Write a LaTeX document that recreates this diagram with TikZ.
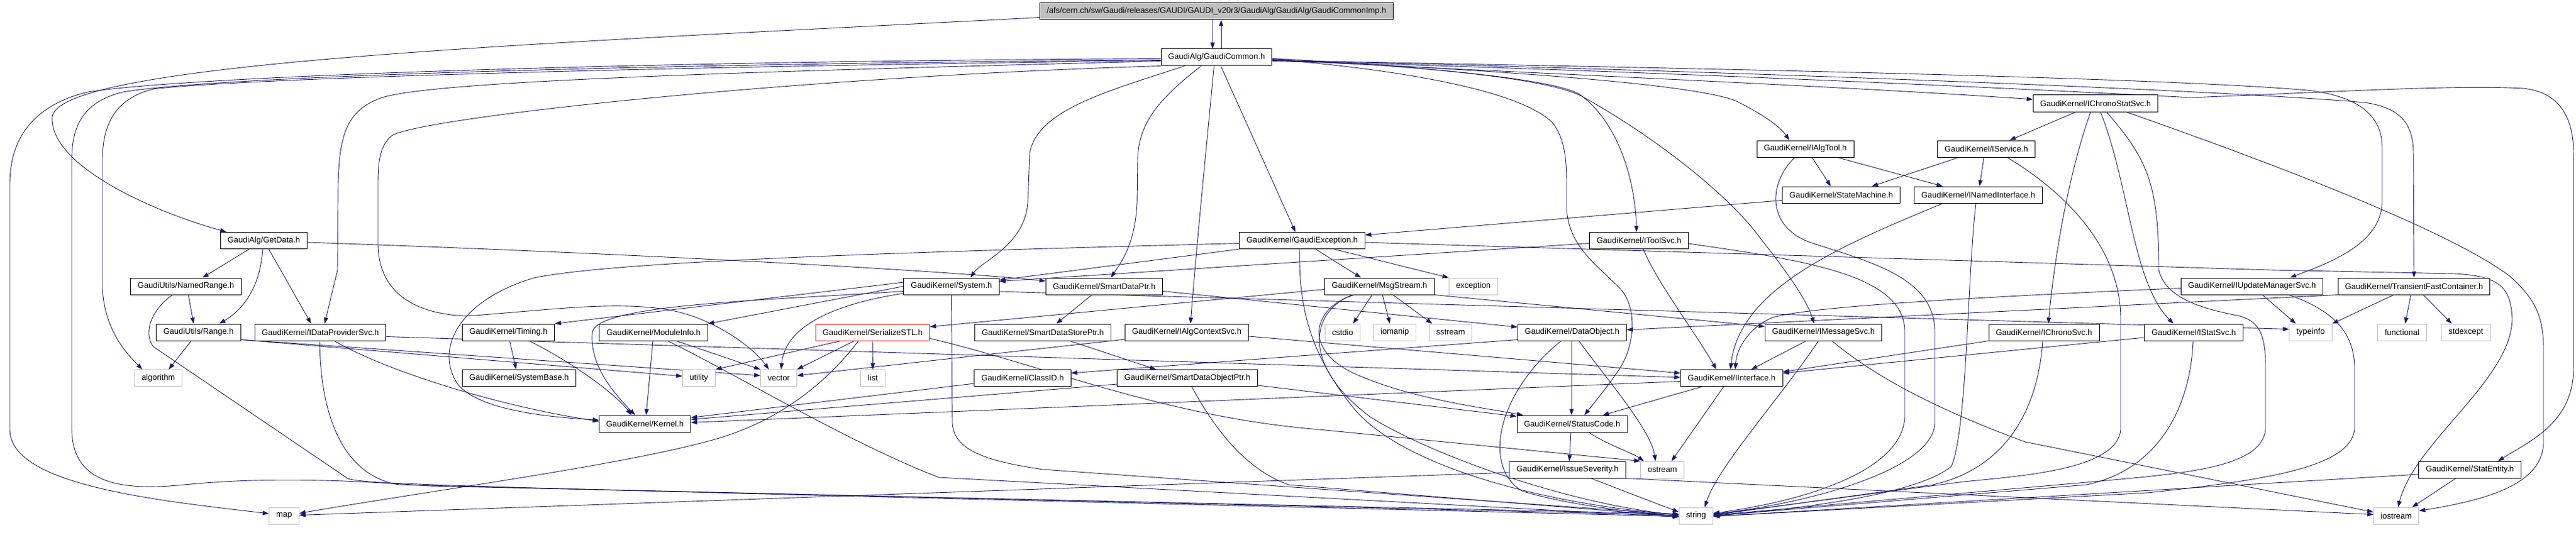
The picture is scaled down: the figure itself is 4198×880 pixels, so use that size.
\documentclass[tikz,border=0pt]{standalone}
\usepackage{fontspec}
\newfontfamily\dotfont{Liberation Sans}
\usetikzlibrary{arrows.meta}
\definecolor{edgeblue}{RGB}{25,25,112}
\definecolor{sysgray}{RGB}{191,191,191}
\pgfdeclarelayer{edges}
\pgfsetlayers{edges,main}
\tikzset{
	file/.style={draw=black, line width=1pt, fill=white, minimum height=27pt, inner xsep=11.5pt, inner ysep=0pt, font=\dotfont\fontsize{13.2}{15}\selectfont},
	sysfile/.style={file, draw=sysgray},
	cutfile/.style={file, draw=red},
	incl/.style={draw=edgeblue, line width=0.9pt, -{Triangle[length=10pt,width=7pt]}}
}

\begin{document}
\begin{tikzpicture}[x=1pt,y=-1pt]
	\useasboundingbox (0,0) rectangle (4198,880);
	% rank 0 - 5
	\node[file, fill=sysgray] (top) at (1982.5,18.5) {/afs/cern.ch/sw/Gaudi/releases/GAUDI/GAUDI\_v20r3/GaudiAlg/GaudiAlg/GaudiCommonImp.h};
	\node[file] (common) at (1982.5,93.5) {GaudiAlg/GaudiCommon.h};
	\node[file] (chronostat) at (3415,168.5) {GaudiKernel/IChronoStatSvc.h};
	\node[file] (algtool) at (2942,242.5) {GaudiKernel/IAlgTool.h};
	\node[file] (iservice) at (3237,242.5) {GaudiKernel/IService.h};
	\node[file] (statemachine) at (3000.5,317.5) {GaudiKernel/StateMachine.h};
	\node[file] (namediface) at (3224,317.5) {GaudiKernel/INamedInterface.h};
	\node[file] (getdata) at (430,392) {GaudiAlg/GetData.h};
	\node[file] (gexcept) at (2122,392) {GaudiKernel/GaudiException.h};
	\node[file] (toolsvc) at (2671,392) {GaudiKernel/IToolSvc.h};
	% rank 6
	\node[file] (namedrange) at (303,466.5) {GaudiUtils/NamedRange.h};
	\node[file] (system) at (1550.5,466.5) {GaudiKernel/System.h};
	\node[file] (smartptr) at (1799.5,466.5) {GaudiKernel/SmartDataPtr.h};
	\node[file] (msgstream) at (2248,466.5) {GaudiKernel/MsgStream.h};
	\node[sysfile] (exception) at (2401,466.5) {exception};
	\node[file] (updmgr) at (3670,466.5) {GaudiKernel/IUpdateManagerSvc.h};
	\node[file] (transient) at (3934,466.5) {GaudiKernel/TransientFastContainer.h};
	% rank 7
	\node[file] (range) at (323.5,541.5) {GaudiUtils/Range.h};
	\node[file] (dataprov) at (522,541.5) {GaudiKernel/IDataProviderSvc.h};
	\node[file] (timing) at (828.6,541.5) {GaudiKernel/Timing.h};
	\node[file] (moduleinfo) at (1065,541.5) {GaudiKernel/ModuleInfo.h};
	\node[cutfile] (serialize) at (1422,541.5) {GaudiKernel/SerializeSTL.h};
	\node[file] (storeptr) at (1699.5,541.5) {GaudiKernel/SmartDataStorePtr.h};
	\node[file] (algctx) at (1934,541.5) {GaudiKernel/IAlgContextSvc.h};
	\node[sysfile] (cstdio) at (2188,541.5) {cstdio};
	\node[sysfile] (iomanip) at (2273,541.5) {iomanip};
	\node[sysfile] (sstream) at (2364,541.5) {sstream};
	\node[file] (dataobj) at (2562,541.5) {GaudiKernel/DataObject.h};
	\node[file] (msgsvc) at (2971.5,541.5) {GaudiKernel/IMessageSvc.h};
	\node[file] (chronosvc) at (3331,541.5) {GaudiKernel/IChronoSvc.h};
	\node[file] (statsvc) at (3575,541.5) {GaudiKernel/IStatSvc.h};
	\node[sysfile] (typeinfo) at (3765.5,541.5) {typeinfo};
	\node[sysfile] (functional) at (3914.5,541.5) {functional};
	\node[sysfile] (stdexcept) at (4018.5,541.5) {stdexcept};
	% rank 8 - 11
	\node[sysfile] (algorithm) at (258,616) {algorithm};
	\node[file] (systembase) at (846,616) {GaudiKernel/SystemBase.h};
	\node[sysfile] (utility) at (1139,616) {utility};
	\node[sysfile] (vector) at (1269,616) {vector};
	\node[sysfile] (list) at (1422.5,616) {list};
	\node[file] (classid) at (1666.5,616) {GaudiKernel/ClassID.h};
	\node[file] (objptr) at (1935,616) {GaudiKernel/SmartDataObjectPtr.h};
	\node[file] (iinterface) at (2822,616) {GaudiKernel/IInterface.h};
	\node[file] (kernel) at (1051,690.5) {GaudiKernel/Kernel.h};
	\node[file] (statuscode) at (2562,690.5) {GaudiKernel/StatusCode.h};
	\node[file] (severity) at (2554.5,765.5) {GaudiKernel/IssueSeverity.h};
	\node[sysfile] (ostream) at (2709,765.5) {ostream};
	\node[file] (statentity) at (4025,765.5) {GaudiKernel/StatEntity.h};
	\node[sysfile] (map) at (463,840.5) {map};
	\node[sysfile] (string) at (2764,840.5) {string};
	\node[sysfile] (iostream) at (3905,840.5) {iostream};

	\begin{pgfonlayer}{edges}
	% GaudiCommonImp.h
	\draw[incl] ([xshift=-6.5]top.south) -- ([xshift=-6.5]common.north);
	\draw[incl] ([yshift=-10]top.west) .. controls (900,70) and (100,100) .. (85,190) .. controls (80,270) and (250,345) .. ([xshift=10]getdata.north west);
	% GaudiCommon.h
	\draw[incl] ([xshift=7.5]common.north) -- ([xshift=7.5]top.south);
	\draw[incl] ([yshift=-2]common.west) .. controls (1000,100) and (300,125) .. (143,150) .. controls (60,170) and (16,220) .. (16,300) -- (16,700) .. controls (16,790) and (250,815) .. ([yshift=3.5]map.west);
	\draw[incl] ([yshift=-4]common.west) .. controls (1000,105) and (350,125) .. (200,150) .. controls (140,165) and (117,200) .. (117,260) -- (117,700) .. controls (118,790) and (200,800) .. (300,790) .. controls (450,775) and (600,785) .. (700,792) -- ([yshift=3]string.west);
	\draw[incl] ([yshift=-5]common.west) .. controls (1000,110) and (400,128) .. (250,145) .. controls (190,160) and (167,200) .. (167,260) -- (167,470) .. controls (170,540) and (210,580) .. ([xshift=-26]algorithm.north);
	\draw[incl] ([yshift=-6]common.west) .. controls (1300,115) and (700,130) .. (620,160) .. controls (565,180) and (553,220) .. (551,300) -- (550,440) -- ([xshift=7]dataprov.north);
	\draw[incl] (common.south west) .. controls (1300,125) and (700,190) .. (640,220) .. controls (620,235) and (616,260) .. (616,300) -- (616,400) .. controls (618,480) and (680,512) .. (760,515) .. controls (900,505) and (1000,490) .. (1090,505) .. controls (1170,520) and (1230,570) .. ([xshift=-16]vector.north);
	\draw[incl] ([xshift=-52]common.south) .. controls (1800,150) and (1690,180) .. (1678,250) -- (1675,330) .. controls (1670,400) and (1600,425) .. ([xshift=31]system.north);
	\draw[incl] ([xshift=-25]common.south) .. controls (1890,160) and (1855,200) .. (1854,260) -- (1853,330) .. controls (1850,400) and (1825,430) .. ([xshift=11]smartptr.north);
	\draw[incl] ([xshift=-4]common.south) .. controls (1965,250) and (1950,400) .. ([xshift=6]algctx.north);
	\draw[incl] ([xshift=7]common.south) -- ([xshift=-11]gexcept.north);
	\draw[incl] ([yshift=-2]common.east) .. controls (2350,110) and (2530,130) .. (2573,153) .. controls (2640,200) and (2665,300) .. ([xshift=-4]toolsvc.north);
	\draw[incl] ([yshift=-2]common.east) .. controls (2350,110) and (2530,130) .. (2580,158) .. controls (2700,225) and (2820,320) .. (2870,390) .. controls (2910,440) and (2945,490) .. ([xshift=-15]msgsvc.north);
	\draw[incl] ([yshift=-3]common.east) .. controls (2300,115) and (2480,150) .. (2530,200) .. controls (2550,225) and (2553,260) .. (2553,300) -- (2553,340) .. controls (2556,400) and (2600,430) .. (2640,470) .. controls (2668,500) and (2665,560) .. (2640,600) .. controls (2620,630) and (2595,660) .. ([xshift=20]statuscode.north);
	\draw[incl] ([yshift=-4]common.east) .. controls (2400,115) and (3000,140) .. ([yshift=6.5]chronostat.west);
	\draw[incl] ([yshift=-4]common.east) .. controls (2400,112) and (2760,135) .. (2830,165) .. controls (2870,185) and (2900,205) .. ([xshift=-26]algtool.north);
	\draw[incl] ([yshift=-5]common.east) .. controls (2700,110) and (3500,125) .. (3760,147) .. controls (3830,155) and (3882,180) .. (3882,240) -- (3882,330) .. controls (3880,400) and (3790,430) .. ([xshift=62]updmgr.north);
	\draw[incl] ([yshift=-5]common.east) .. controls (2700,112) and (3600,145) .. (3853,167) .. controls (3910,175) and (3933,200) .. (3933,250) -- (transient.north);
	\draw[incl] ([yshift=-6]common.east) .. controls (2700,115) and (3400,150) .. (3571,159) .. controls (3800,150) and (4000,138) .. (4112,144) .. controls (4170,150) and (4194,190) .. (4194,250) -- (4194,600) .. controls (4194,690) and (4120,720) .. ([xshift=46]statentity.north);
	% GetData.h, GaudiUtils
	\draw[incl] ([xshift=-24]getdata.south) -- ([xshift=27]namedrange.north);
	\draw[incl] ([xshift=-2]getdata.south) .. controls (424,470) and (395,505) .. ([xshift=34]range.north);
	\draw[incl] ([xshift=8]getdata.south) -- ([xshift=-15]dataprov.north);
	\draw[incl] ([yshift=-3]getdata.east) .. controls (900,408) and (1500,437) .. ([yshift=8.5]smartptr.west);
	\draw[incl] ([xshift=4]namedrange.south) -- ([xshift=-8]range.north);
	\draw[incl] ([xshift=-22]namedrange.south) .. controls (240,510) and (236,548) .. (250,565) -- (567,780) .. controls (600,790) and (700,792) .. ([yshift=-1]string.west);
	\draw[incl] ([xshift=-12]range.south) -- ([xshift=17]algorithm.north);
	\draw[incl] ([yshift=-12]range.east) -- ([yshift=3]utility.west);
	\draw[incl] ([yshift=-12]range.east) -- ([yshift=4]vector.west);
	% IDataProviderSvc.h
	\draw[incl] ([xshift=23]dataprov.south) .. controls (620,600) and (800,660) .. ([yshift=4]kernel.west);
	\draw[incl] ([xshift=-1]dataprov.south) .. controls (522,680) and (560,775) .. (650,790) -- ([yshift=1]string.west);
	\draw[incl] ([yshift=-7]dataprov.east) -- ([yshift=1]iinterface.west);
	% System.h, Timing.h, ModuleInfo.h
	\draw[incl] ([yshift=6.5]system.west) -- (timing.north east);
	\draw[incl] (system.west) -- (moduleinfo.north east);
	\draw[incl] ([yshift=-8]system.west) .. controls (1250,490) and (960,495) .. (965,545) .. controls (962,600) and (1005,645) .. ([xshift=-16]kernel.north);
	\draw[incl] ([yshift=-11.5]system.west) .. controls (1330,500) and (1278,545) .. ([xshift=4]vector.north);
	\draw[incl] ([yshift=-8.5]system.east) -- ([yshift=5]typeinfo.west);
	\draw[incl] (system.south) -- (1552,690) .. controls (1555,735) and (1610,752) .. (1700,765) -- ([yshift=2]string.west);
	\draw[incl] ([xshift=2]timing.south) -- ([xshift=-5]systembase.north);
	\draw[incl] ([xshift=34]timing.south) .. controls (950,600) and (1010,650) .. ([xshift=-22]kernel.north);
	\draw[incl] ([xshift=-1]moduleinfo.south) -- ([xshift=2]kernel.north);
	\draw[incl] ([xshift=37]moduleinfo.south) -- (vector.north west);
	\draw[incl] ([xshift=23]moduleinfo.south) .. controls (1200,610) and (1380,720) .. (1530,778) -- ([yshift=-2]string.west);
	% SerializeSTL.h
	\draw[incl] ([xshift=-52]serialize.south) -- (utility.north east);
	\draw[incl] ([xshift=-30]serialize.south) -- (vector.north east);
	\draw[incl] (serialize.south) -- (list.north);
	\draw[incl] ([xshift=-23]serialize.south) .. controls (1350,620) and (1270,690) .. (1150,720) .. controls (1000,760) and (700,800) .. ([yshift=4]map.east);
	\draw[incl] ([yshift=-10]serialize.east) .. controls (1700,595) and (1900,680) .. (2150,700) -- (ostream.north west);
	% SmartData*
	\draw[incl] ([xshift=-20]smartptr.south) -- ([xshift=22]storeptr.north);
	\draw[incl] ([yshift=-8]smartptr.east) -- ([yshift=8.5]dataobj.west);
	\draw[incl] ([xshift=44]storeptr.south) -- ([xshift=-51]objptr.north);
	\draw[incl] ([yshift=-10]objptr.west) -- ([yshift=7]kernel.east);
	\draw[incl] ([yshift=-12]objptr.east) -- ([yshift=12]statuscode.west);
	\draw[incl] ([xshift=7]objptr.south) .. controls (1980,700) and (2030,765) .. (2100,790) -- ([yshift=-1]string.west);
	\draw[incl] ([yshift=-6.5]algctx.east) -- ([yshift=8]iinterface.west);
	\draw[incl] ([yshift=-11.5]algctx.west) -- ([yshift=4]vector.east);
	\draw[incl] ([yshift=-9]classid.west) -- ([yshift=10]kernel.east);
	% GaudiException.h
	\draw[incl] ([yshift=-4.5]gexcept.west) .. controls (1500,410) and (1000,425) .. (870,453) .. controls (760,485) and (705,560) .. (745,625) .. controls (780,670) and (900,680) .. ([yshift=6]kernel.west);
	\draw[incl] (gexcept.south west) -- ([yshift=10]system.east);
	\draw[incl] ([xshift=22]gexcept.south) -- ([xshift=-30]msgstream.north);
	\draw[incl] ([xshift=52]gexcept.south) -- (exception.north west);
	\draw[incl] ([xshift=-4]gexcept.south) .. controls (2116,500) and (2135,580) .. (2210,670) .. controls (2300,770) and (2550,825) .. ([yshift=2]string.west);
	\draw[incl] ([yshift=-3]gexcept.east) -- (3700,440) -- (4000,446) .. controls (4070,450) and (4092,465) .. (4094,520) .. controls (4092,620) and (3935,720) .. ([xshift=3]iostream.north);
	% MsgStream.h
	\draw[incl] ([yshift=-5]msgstream.west) -- ([yshift=9]serialize.east);
	\draw[incl] ([xshift=-12]msgstream.south) -- ([xshift=17]cstdio.north);
	\draw[incl] ([xshift=5]msgstream.south) -- ([xshift=-8]iomanip.north);
	\draw[incl] ([xshift=22]msgstream.south) -- ([xshift=-30]sstream.north);
	\draw[incl] (msgstream.south east) -- ([yshift=9.5]msgsvc.west);
	\draw[incl] ([xshift=-41]msgstream.south) .. controls (2140,500) and (2120,570) .. (2210,610) .. controls (2300,650) and (2420,665) .. ([xshift=-80]statuscode.north);
	\draw[incl] ([xshift=-44]msgstream.south) .. controls (2130,510) and (2125,600) .. (2234,680) .. controls (2330,740) and (2550,820) .. ([yshift=1]string.west);
	% DataObject.h, StatusCode.h, IssueSeverity.h
	\draw[incl] ([yshift=-12]dataobj.west) -- ([yshift=8]classid.east);
	\draw[incl] ([xshift=-1]dataobj.south) -- ([xshift=-1]statuscode.north);
	\draw[incl] ([xshift=11]dataobj.south) .. controls (2620,620) and (2690,700) .. ([xshift=-11]ostream.north);
	\draw[incl] ([xshift=-18]dataobj.south) .. controls (2440,640) and (2415,760) .. (2480,800) .. controls (2560,825) and (2680,836) .. ([yshift=-1]string.west);
	\draw[incl] ([xshift=-2]statuscode.south) -- ([xshift=3]severity.north);
	\draw[incl] ([xshift=27]statuscode.south) .. controls (2620,725) and (2660,738) .. ([xshift=-30]ostream.north);
	\draw[incl] ([yshift=-4.5]severity.west) -- ([yshift=1]map.east);
	\draw[incl] ([xshift=38]severity.south) -- ([yshift=6]string.west);
	\draw[incl] (severity.south east) -- ([yshift=2]iostream.west);
	% IInterface.h
	\draw[incl] ([yshift=-5.5]iinterface.west) -- ([yshift=2]kernel.east);
	\draw[incl] ([xshift=-48]iinterface.south) -- ([xshift=50]statuscode.north);
	\draw[incl] ([xshift=-13]iinterface.south) -- ([xshift=15]ostream.north);
	% IToolSvc.h, IAlgTool.h, IService.h
	\draw[incl] ([yshift=-4.5]toolsvc.west) -- ([yshift=8]system.east);
	\draw[incl] ([xshift=7]toolsvc.south) .. controls (2700,460) and (2765,545) .. ([xshift=-25]iinterface.north);
	\draw[incl] ([yshift=-5]toolsvc.east) .. controls (2950,425) and (3104,450) .. (3104,540) -- (3104,680) .. controls (3100,765) and (2950,815) .. ([yshift=4]string.east);
	\draw[incl] ([xshift=11]algtool.south) -- ([xshift=-17]statemachine.north);
	\draw[incl] ([xshift=52]algtool.south) -- ([xshift=-58]namediface.north);
	\draw[incl] ([xshift=-17]algtool.south) .. controls (2880,300) and (2880,370) .. (2950,395) .. controls (3040,425) and (3153,450) .. (3153,540) -- (3153,690) .. controls (3150,765) and (2950,820) .. ([yshift=3]string.east);
	\draw[incl] ([xshift=-45]iservice.south) -- ([xshift=50]statemachine.north);
	\draw[incl] ([xshift=-4]iservice.south) -- ([xshift=2]namediface.north);
	\draw[incl] ([xshift=34]iservice.south) .. controls (3360,310) and (3456,400) .. (3456,520) -- (3456,700) .. controls (3450,765) and (3300,775) .. (3200,785) -- ([yshift=2]string.east);
	\draw[incl] ([yshift=-9]statemachine.west) -- ([yshift=9]gexcept.east);
	\draw[incl] ([xshift=-58]namediface.south) .. controls (3000,400) and (2835,470) .. ([xshift=-2]iinterface.north);
	\draw[incl] ([xshift=-4]namediface.south) .. controls (3206,450) and (3206,700) .. (3180,760) .. controls (3120,810) and (2900,832) .. (string.east);
	% IChronoStatSvc.h
	\draw[incl] ([xshift=-32]chronostat.south) -- ([xshift=38]iservice.north);
	\draw[incl] ([xshift=-8]chronostat.south) .. controls (3365,300) and (3345,450) .. ([xshift=7]chronosvc.north);
	\draw[incl] ([xshift=8]chronostat.south) .. controls (3470,300) and (3475,460) .. ([xshift=-33]statsvc.north);
	\draw[incl] ([xshift=18]chronostat.south) .. controls (3500,260) and (3518,300) .. (3518,440) .. controls (3530,490) and (3600,505) .. (3650,515) .. controls (3685,525) and (3692,550) .. (3692,600) -- (3692,700) .. controls (3685,765) and (3550,772) .. (3400,786) -- ([yshift=1]string.east);
	\draw[incl] ([xshift=50]chronostat.south) .. controls (3800,300) and (4010,390) .. (4090,450) .. controls (4135,490) and (4145,520) .. (4145,570) -- (4145,720) .. controls (4145,790) and (4050,815) .. ([yshift=8]iostream.east);
	% IMessageSvc.h, IChronoSvc.h, IStatSvc.h
	\draw[incl] ([xshift=-28]msgsvc.south) -- ([xshift=32]iinterface.north);
	\draw[incl] ([xshift=-8]msgsvc.south) .. controls (2900,650) and (2800,760) .. ([xshift=14]string.north);
	\draw[incl] ([xshift=14]msgsvc.south) .. controls (3050,610) and (3150,665) .. (3300,720) -- ([yshift=6]iostream.west);
	\draw[incl] (chronosvc.south west) -- ([yshift=10]iinterface.east);
	\draw[incl] ([xshift=-2]chronosvc.south) .. controls (3320,680) and (3260,765) .. (3150,790) -- ([yshift=1]string.east);
	\draw[incl] ([yshift=-8.5]statsvc.west) -- ([yshift=8]iinterface.east);
	\draw[incl] ([xshift=-1]statsvc.south) .. controls (3570,660) and (3520,765) .. (3400,790) -- (string.east);
	% IUpdateManagerSvc.h, TransientFastContainer.h, StatEntity.h
	\draw[incl] ([yshift=-3]updmgr.west) .. controls (3200,485) and (2950,500) .. (2890,517) .. controls (2855,530) and (2830,565) .. ([xshift=6]iinterface.north);
	\draw[incl] ([xshift=17]updmgr.south) -- ([xshift=-24]typeinfo.north);
	\draw[incl] ([xshift=60]updmgr.south) .. controls (3800,505) and (3837,540) .. (3837,600) -- (3837,700) .. controls (3830,760) and (3700,782) .. (3500,803) -- ([yshift=-1]string.east);
	\draw[incl] (transient.south west) -- ([yshift=4]dataobj.east);
	\draw[incl] ([xshift=-33]transient.south) -- (typeinfo.north east);
	\draw[incl] ([xshift=-5]transient.south) -- ([xshift=5]functional.north);
	\draw[incl] ([xshift=15]transient.south) -- ([xshift=-23]stdexcept.north);
	\draw[incl] ([xshift=-23]statentity.south) -- ([xshift=26]iostream.north);
	\draw[incl] ([yshift=-7.5]statentity.west) -- ([yshift=-1]string.east);
	\end{pgfonlayer}
\end{tikzpicture}
\end{document}
